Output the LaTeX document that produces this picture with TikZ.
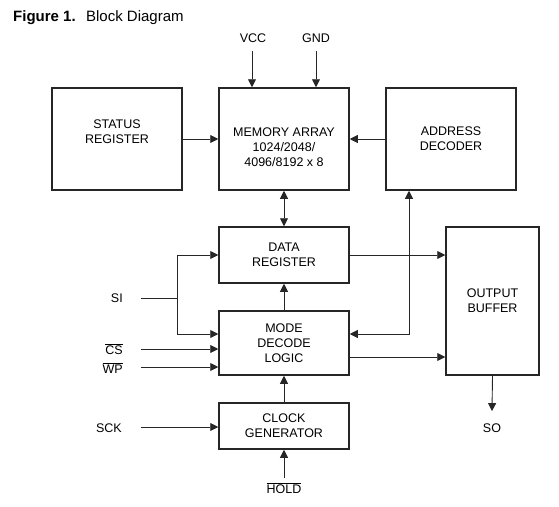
\documentclass[tikz,border=0pt]{standalone}
\usepackage{fontspec}
\setmainfont{Liberation Sans}
\usetikzlibrary{arrows.meta}
\begin{document}
\begin{tikzpicture}[x=1pt,y=-1pt,
  box/.style={draw=black!85, line width=1.5pt, align=center, inner sep=0pt,
    font=\fontsize{12.5}{14.8}\selectfont},
  lbl/.style={inner sep=0pt, align=center, font=\fontsize{12.5}{14.8}\selectfont},
  tip/.tip={Triangle[length=8pt,width=8pt]},
  conn/.style={draw=black!85, line width=0.9pt, -tip},
  conn2/.style={draw=black!85, line width=0.9pt, tip-tip},
  plain/.style={draw=black!85, line width=0.9pt}]
\useasboundingbox (0,0) rectangle (559,506);
% title
\node[anchor=base west, inner sep=0pt, font=\bfseries\fontsize{15}{17}\selectfont] (title) at (13,21) {Figure 1.};
\node[anchor=base west, inner sep=0pt, font=\fontsize{15}{17}\selectfont] (title2) at ([xshift=10pt]title.base east) {Block Diagram};
% boxes
\node[box, minimum width=130pt, minimum height=102pt] (status) at (117,139) {};
\node[lbl] (statustxt) at (117,132) {STATUS\\REGISTER};
\node[box, minimum width=130pt, minimum height=102pt] (mem) at (284,139) {};
\node[lbl] (memtxt) at (284,147) {MEMORY ARRAY\\1024/2048/\\4096/8192 x 8};
\node[box, minimum width=130pt, minimum height=102pt] (addr) at (451,139) {ADDRESS\\DECODER};
\node[box, minimum width=130pt, minimum height=56pt] (data) at (284,255) {DATA\\REGISTER};
\node[box, minimum width=130pt, minimum height=64pt] (mode) at (284,343) {MODE\\DECODE\\LOGIC};
\node[box, minimum width=130pt, minimum height=46pt] (clk) at (284,426) {CLOCK\\GENERATOR};
\node[box, minimum width=93pt, minimum height=148pt] (out) at (492.5,301) {OUTPUT\\BUFFER};
% labels
\node[lbl, anchor=base] (vcc) at (253,42) {VCC};
\node[lbl, anchor=base] (gnd) at (316,42) {GND};
\node[lbl, anchor=base east] (si) at (123,302) {SI};
\node[lbl, anchor=base east] (cs) at (123,354) {$\overline{\mbox{CS}}$};
\node[lbl, anchor=base east] (wp) at (123,373) {$\overline{\mbox{WP}}$};
\node[lbl, anchor=base east] (sck) at (122,432) {SCK};
\node[lbl, anchor=base] (hold) at (284,493) {$\overline{\mbox{HOLD}}$};
\node[lbl, anchor=base] (so) at (492,432) {SO};
% free ends
\coordinate (vccend) at (252,51);
\coordinate (gndend) at (316,51);
\coordinate (siend) at (141,298);
\coordinate (sij) at (177,298);
\coordinate (csend) at (141,349);
\coordinate (wpend) at (141,367);
\coordinate (sckend) at (141,427);
\coordinate (holdend) at (284,478);
% connectors
\draw[conn] (vccend) -- (vccend |- mem.north);
\draw[conn] (gndend) -- (gndend |- mem.north);
\draw[conn] (status.east) -- (mem.west);
\draw[conn] (addr.west) -- (mem.east);
\draw[conn2] (mem.south) -- (data.north);
\draw[conn] (mode.north) -- (data.south);
\draw[conn] (clk.north) -- (mode.south);
\draw[conn] (holdend) -- (clk.south);
\draw[conn] (sckend) -- (sckend -| clk.west);
\draw[plain] (siend) -- (sij);
\draw[conn] (sij) |- (data.west);
\draw[conn] (sij) |- ([yshift=9pt]mode.west);
\draw[conn] (csend) -- (csend -| mode.west);
\draw[conn] (wpend) -- (wpend -| mode.west);
\draw[conn2] ([yshift=9pt]mode.east) -| ([xshift=-42pt]addr.south);
\draw[conn] (data.east) -- (data.east -| out.west);
\draw[conn] ([yshift=-14pt]mode.east) -- ([yshift=-14pt]mode.east -| out.west);
\draw[conn] (out.south) -- ([yshift=12pt]so.north);
\end{tikzpicture}
\end{document}
